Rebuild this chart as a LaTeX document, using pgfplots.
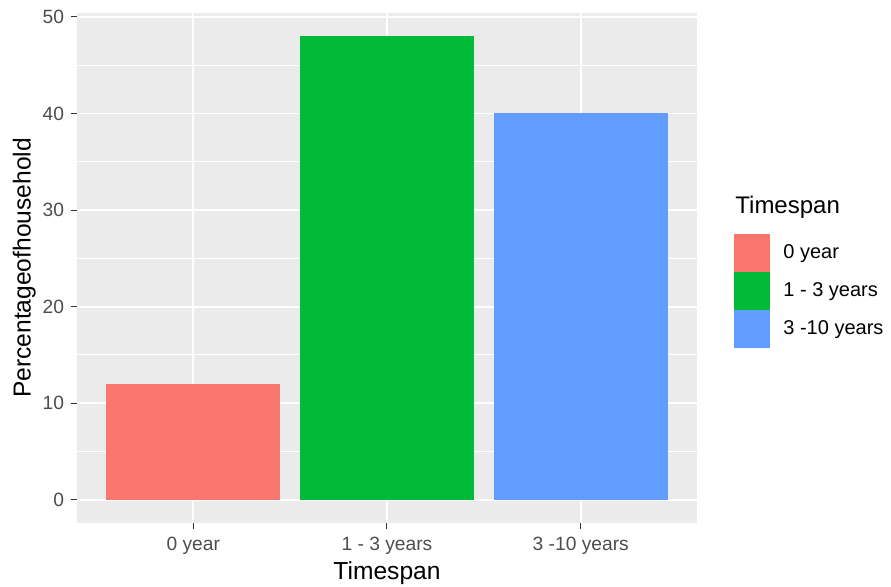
\documentclass[border=0pt]{standalone}
\usepackage{fontspec}
\setmainfont{Liberation Sans}
\usepackage{pgfplots}
\pgfplotsset{compat=1.18}
\definecolor{gg0}{HTML}{F8766D}
\definecolor{gg1}{HTML}{00BA38}
\definecolor{gg2}{HTML}{619CFF}
\definecolor{panel}{HTML}{EBEBEB}
\definecolor{ticktext}{HTML}{4D4D4D}
\definecolor{tickmark}{HTML}{333333}

\begin{document}
\begin{tikzpicture}
\path[use as bounding box] (0,0) rectangle (445.5pt,293.5pt);
\begin{axis}[
    at={(38.5pt,32pt)}, anchor=south west,
    scale only axis,
    width=310pt, height=255pt,
    xmin=0.4, xmax=3.6,
    ymin=-2.4, ymax=50.4,
    axis line style={draw=none},
    axis background/.style={fill=panel},
    xtick={1,2,3},
    xticklabels={0 year, 1 - 3 years, 3 -10 years},
    ytick={0,10,20,30,40,50},
    minor ytick={5,15,25,35,45},
    xmajorgrids, ymajorgrids, yminorgrids,
    major grid style={white, line width=0.9pt},
    minor grid style={white, line width=0.45pt},
    tick align=outside,
    xtick pos=bottom, ytick pos=left,
    major tick length=3pt,
    minor tick length=0pt,
    major tick style={tickmark, line width=0.5pt},
    tick label style={font=\fontsize{9.6}{11}\selectfont, text=ticktext},
    /pgf/number format/assume math mode=true,
    xticklabel style={yshift=-0.5pt},
    xlabel={Timespan},
    ylabel={Percentageofhousehold},
    label style={font=\fontsize{12.3}{14}\selectfont},
    xlabel style={at={(axis description cs:0.5,-0.098)}, anchor=center},
    ylabel style={at={(axis description cs:-0.085,0.5)}, anchor=center, rotate=0},
    legend style={at={(axis description cs:1.05,0.5745)}, anchor=north west,
        draw=none, fill=none, row sep=0pt, column sep=0pt,
        nodes={inner sep=0pt, anchor=west},
        font=\fontsize{10}{12}\selectfont,
        /tikz/every odd column/.append style={column sep=6.5pt}},
    legend cell align=left,
    legend image code/.code={\fill[#1] (0pt,-9.5pt) rectangle (18pt,9.5pt);},
]
\addplot[ybar, bar width=0.9, bar shift=0pt, fill=gg0, draw=none] coordinates {(1,12)};
\addplot[ybar, bar width=0.9, bar shift=0pt, fill=gg1, draw=none] coordinates {(2,48)};
\addplot[ybar, bar width=0.9, bar shift=0pt, fill=gg2, draw=none] coordinates {(3,40)};
\legend{0 year, 1 - 3 years, 3 -10 years}
\end{axis}
\node[anchor=west, inner sep=0pt, font=\fontsize{12}{14}\selectfont] at (367.5pt,190pt) {Timespan};
\end{tikzpicture}
\end{document}
